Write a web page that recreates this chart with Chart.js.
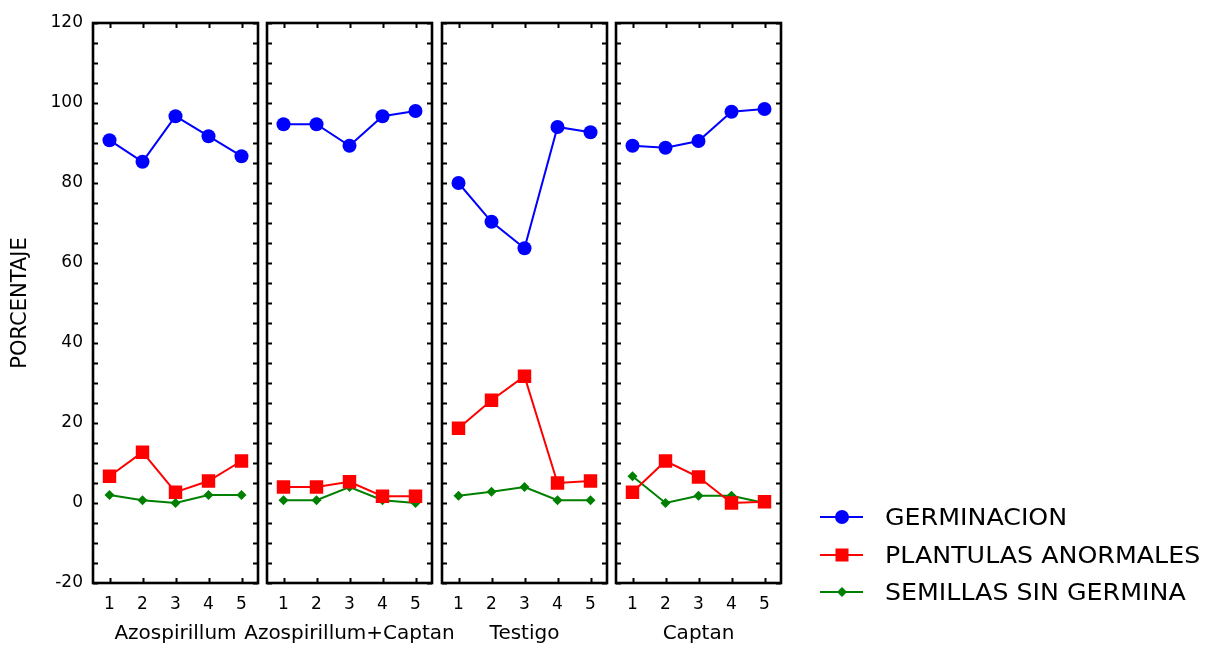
<!DOCTYPE html>
<html>
<head>
<meta charset="utf-8">
<script src="https://cdn.jsdelivr.net/npm/chart.js@4.4.1/dist/chart.umd.min.js"></script>
<style>
  html, body { margin: 0; padding: 0; background: #fff; }
  #wrap { position: relative; width: 1205px; height: 645px; overflow: hidden; font-family: "DejaVu Sans", sans-serif; }
  #wrap canvas { position: absolute; top: 0; }
  .leg { position: absolute; left: 820px; height: 30px; display: flex; align-items: center; }
  .leg svg { display: block; }
  .leg span { font-size: 23px; color: #000; margin-left: 21px; transform: scaleX(1.1); transform-origin: left center; white-space: nowrap; }
</style>
</head>
<body>
<div id="wrap">
  <canvas id="p0" width="300" height="645" style="left:0px"></canvas>
  <canvas id="p1" width="250" height="645" style="left:225px"></canvas>
  <canvas id="p2" width="250" height="645" style="left:400px"></canvas>
  <canvas id="p3" width="250" height="645" style="left:575px"></canvas>
  <div id="legend"></div>
</div>
<script>
// treatments (one panel each) and the 5 repetitions on the x axis
const groups = ['Azospirillum', 'Azospirillum+Captan', 'Testigo', 'Captan'];
const reps = ['1', '2', '3', '4', '5'];
const yTicks = { min: -20, max: 120, step: 20 };

const seriesNames = ['GERMINACION', 'PLANTULAS ANORMALES', 'SEMILLAS SIN GERMINA'];

// values per panel
const germinacion = [
  [90.7, 85.3, 96.7, 91.7, 86.7],
  [94.7, 94.7, 89.3, 96.7, 98.0],
  [80.0, 70.3, 63.7, 94.0, 92.7],
  [89.3, 88.8, 90.5, 97.8, 98.5]
];
const plantulas = [
  [6.7, 12.7, 2.7, 5.5, 10.5],
  [4.0, 4.0, 5.3, 1.7, 1.7],
  [18.7, 25.7, 31.7, 5.0, 5.5],
  [2.7, 10.5, 6.5, 0.0, 0.3]
];
const semillas = [
  [2.0, 0.7, 0.0, 2.0, 2.0],
  [0.7, 0.7, 4.0, 0.7, 0.0],
  [1.8, 2.8, 4.0, 0.7, 0.7],
  [6.7, 0.0, 1.8, 1.8, 0.0]
];

const colors = ['#0000ff', '#ff0000', '#008000'];
const styles = ['circle', 'rect', 'rectRot'];
const radii = [7, 9.5, 5];

// panel frames: [canvas left, canvas width, plot left, plot right]
const frames = [
  [0, 300, 93, 258],
  [225, 250, 267, 432],
  [400, 250, 442, 607],
  [575, 250, 616, 781]
];

const font = '"DejaVu Sans", sans-serif';

// box around each panel with small inward ticks, plus the treatment name under it
const framePlugin = {
  id: 'frame',
  afterDatasetsDraw(chart, args, opts) {
    const { ctx, chartArea: a, scales } = chart;
    const y = scales.y, x = scales.x;
    ctx.save();
    ctx.strokeStyle = '#000';
    ctx.lineWidth = 2;
    ctx.beginPath();
    for (let v = yTicks.min; v <= yTicks.max; v += 5) {
      const py = Math.round(y.getPixelForValue(v)) + 0.5;
      ctx.moveTo(a.left, py); ctx.lineTo(a.left + 5, py);
      ctx.moveTo(a.right, py); ctx.lineTo(a.right - 5, py);
    }
    x.ticks.forEach((t, i) => {
      const px = Math.round(x.getPixelForTick(i)) + 0.5;
      ctx.moveTo(px, a.top); ctx.lineTo(px, a.top + 5);
      ctx.moveTo(px, a.bottom); ctx.lineTo(px, a.bottom - 5);
    });
    ctx.stroke();
    ctx.lineWidth = 2.6;
    ctx.strokeRect(a.left, a.top, a.right - a.left, a.bottom - a.top);

    ctx.fillStyle = '#000';
    ctx.font = '20px ' + font;
    ctx.textAlign = 'center';
    ctx.textBaseline = 'middle';
    ctx.fillText(opts.label, (a.left + a.right) / 2, x.bottom - 11);
    ctx.restore();
  }
};

function makePanel(k) {
  const [cl, cw, left, right] = frames[k];
  const first = k === 0;
  const values = [germinacion[k], plantulas[k], semillas[k]];
  new Chart(document.getElementById('p' + k), {
    type: 'line',
    data: {
      labels: reps,
      datasets: values.map((d, i) => ({
        label: seriesNames[i],
        data: d,
        borderColor: colors[i],
        backgroundColor: colors[i],
        borderWidth: 2,
        pointStyle: styles[i],
        pointRadius: radii[i],
        pointHoverRadius: radii[i],
        pointBorderWidth: 0,
        tension: 0
      }))
    },
    options: {
      responsive: false,
      animation: false,
      layout: { padding: { left: first ? 0 : left - cl, right: cl + cw - right, top: 23, bottom: 0 } },
      plugins: {
        legend: { display: false },
        tooltip: { enabled: false },
        frame: { label: groups[k] }
      },
      scales: {
        x: {
          type: 'category',
          offset: true,
          grid: { display: false },
          border: { display: false },
          ticks: { color: '#000', font: { family: font, size: 17 }, padding: 3, maxRotation: 0 },
          afterFit(s) { s.height = 62; }
        },
        y: {
          display: first,
          min: yTicks.min,
          max: yTicks.max,
          grid: { display: false },
          border: { display: false },
          ticks: { stepSize: yTicks.step, color: '#000', font: { family: font, size: 17 }, padding: 2 },
          title: { display: first, text: 'PORCENTAJE', color: '#000', font: { family: font, size: 21 }, padding: { top: 8, bottom: 0 } },
          afterFit(s) { s.width = first ? 93 : 0; }
        }
      }
    },
    plugins: [framePlugin]
  });
}

groups.forEach((g, k) => makePanel(k));

// legend at the lower right
const legendRows = [517, 555, 592];
const legend = document.getElementById('legend');
seriesNames.forEach((name, i) => {
  const row = document.createElement('div');
  row.className = 'leg';
  row.style.top = (legendRows[i] - 15) + 'px';
  let mark;
  if (i === 0) mark = '<circle cx="22" cy="15" r="7" fill="' + colors[i] + '"/>';
  else if (i === 1) mark = '<rect x="15.5" y="8.5" width="13" height="13" fill="' + colors[i] + '"/>';
  else mark = '<polygon points="22,10 27,15 22,20 17,15" fill="' + colors[i] + '"/>';
  row.innerHTML = '<svg width="44" height="30"><line x1="0" y1="15" x2="43" y2="15" stroke="' + colors[i] + '" stroke-width="2"/>' + mark + '</svg><span>' + name + '</span>';
  legend.appendChild(row);
});
</script>
</body>
</html>
